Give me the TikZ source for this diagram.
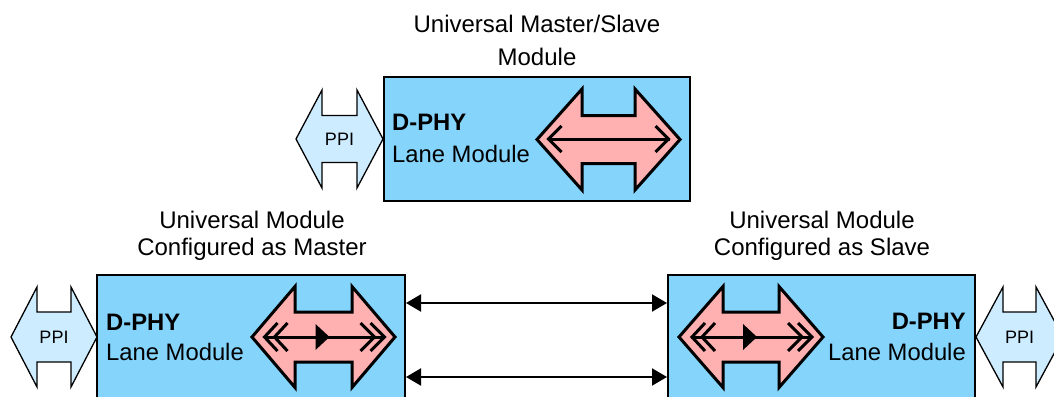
\documentclass[tikz,border=0pt]{standalone}
\usepackage{fontspec}
\setmainfont{Liberation Sans}
\usetikzlibrary{arrows.meta}
\definecolor{boxblue}{RGB}{132,212,252}
\definecolor{ppiblue}{RGB}{206,236,255}
\definecolor{redfill}{RGB}{255,176,176}
% #1 style, #2 xL, #3 xR, #4 head length, #5 centre y, #6 head half height, #7 shaft half height
\newcommand\DArr[7]{\draw[#1] (#2,#5) -- ({#2+#4},{#5-#6}) -- ({#2+#4},{#5-#7}) -- ({#3-#4},{#5-#7}) -- ({#3-#4},{#5-#6}) -- (#3,#5) -- ({#3-#4},{#5+#6}) -- ({#3-#4},{#5+#7}) -- ({#2+#4},{#5+#7}) -- ({#2+#4},{#5+#6}) -- cycle;}
\tikzset{
  modbox/.style={draw=black, line width=2pt, fill=boxblue, rectangle, inner sep=0pt},
  ppiarrow/.style={draw=black, line width=1.3pt, fill=ppiblue, line join=miter},
  redarrow/.style={draw=black, line width=3pt, fill=redfill, line join=miter},
  innerline/.style={draw=black, line width=3pt},
  conn/.style={draw=black, line width=2pt, {Triangle[length=15pt,width=17pt]}-{Triangle[length=15pt,width=17pt]}},
  title/.style={font=\fontsize{24}{24}\selectfont, anchor=base, inner sep=0pt},
  boxtext/.style={font=\fontsize{23.8}{23.8}\selectfont, inner sep=0pt},
  ppitext/.style={font=\fontsize{18}{18}\selectfont, inner sep=0pt},
  pics/twoway/.style={code={
    \draw[innerline] (-61,0) -- (61,0);
    \draw[innerline] (-47,-13) -- (-60,0) -- (-47,13);
    \draw[innerline] (47,-13) -- (60,0) -- (47,13);
  }},
  pics/oneway/.style={code={
    \draw[innerline] (-60,0) -- (61,0);
    \draw[innerline] (-46,-14) -- (-59,0) -- (-46,14);
    \draw[innerline] (-36,-14) -- (-49,0) -- (-36,14);
    \draw[innerline] (47,-14) -- (61,0) -- (47,14);
    \draw[innerline] (37,-14) -- (51,0) -- (37,14);
    \fill[black] (-8,-13) -- (6,0) -- (-8,13) -- cycle;
  }}
}
\begin{document}
\begin{tikzpicture}[x=1pt,y=-1pt]
\useasboundingbox (0,0) rectangle (1054,396);
\clip (0,0) rectangle (1054,396);
% titles
\node[title] (t1a) at (537,33) {Universal Master/Slave};
\node[title] (t1b) at (537,66) {Module};
\node[title] (t2a) at (252,228) {Universal Module};
\node[title] (t2b) at (252,255.5) {Configured as Master};
\node[title] (t3a) at (822,228) {Universal Module};
\node[title] (t3b) at (822,255.5) {Configured as Slave};
% boxes
\node[modbox, minimum width=306pt, minimum height=124pt] (tbox) at (537,139) {};
\node[modbox, minimum width=308pt, minimum height=160pt] (lbox) at (251,355) {};
\node[modbox, minimum width=307pt, minimum height=160pt] (rbox) at (821.5,355) {};
% box texts
\node[boxtext, anchor=base west] (td) at (392,130) {\bfseries D-PHY};
\node[boxtext, anchor=base west] (tl) at (392,162) {Lane Module};
\node[boxtext, anchor=base west] (ld) at (106,330) {\bfseries D-PHY};
\node[boxtext, anchor=base west] (ll) at (106,360) {Lane Module};
\node[boxtext, anchor=base east] (rd) at (966,329) {\bfseries D-PHY};
\node[boxtext, anchor=base east] (rl) at (966,360) {Lane Module};
% PPI arrows
\DArr{ppiarrow}{296}{383}{26}{139}{49}{23.5}
\node[ppitext] (tp) at (339.5,139) {PPI};
\DArr{ppiarrow}{11}{97}{26}{337}{50}{25}
\node[ppitext] (lp) at (54,337) {PPI};
\DArr{ppiarrow}{976}{1063}{27}{337}{50}{25}
\node[ppitext] (rp) at (1019.5,337) {PPI};
% red arrows
\DArr{redarrow}{537}{680}{45}{139.5}{50.5}{24}
\pic at (608.5,139) {twoway};
\DArr{redarrow}{252}{395}{43}{337}{50.5}{25}
\pic at (323.5,337) {oneway};
\DArr{redarrow}{679}{823}{44}{337}{50.5}{25}
\pic at (751,337) {oneway};
% connectors
\coordinate (c1) at (0,303);
\coordinate (c2) at (0,377);
\draw[conn] (lbox.east |- c1) -- (rbox.west |- c1);
\draw[conn] (lbox.east |- c2) -- (rbox.west |- c2);
\end{tikzpicture}
\end{document}
